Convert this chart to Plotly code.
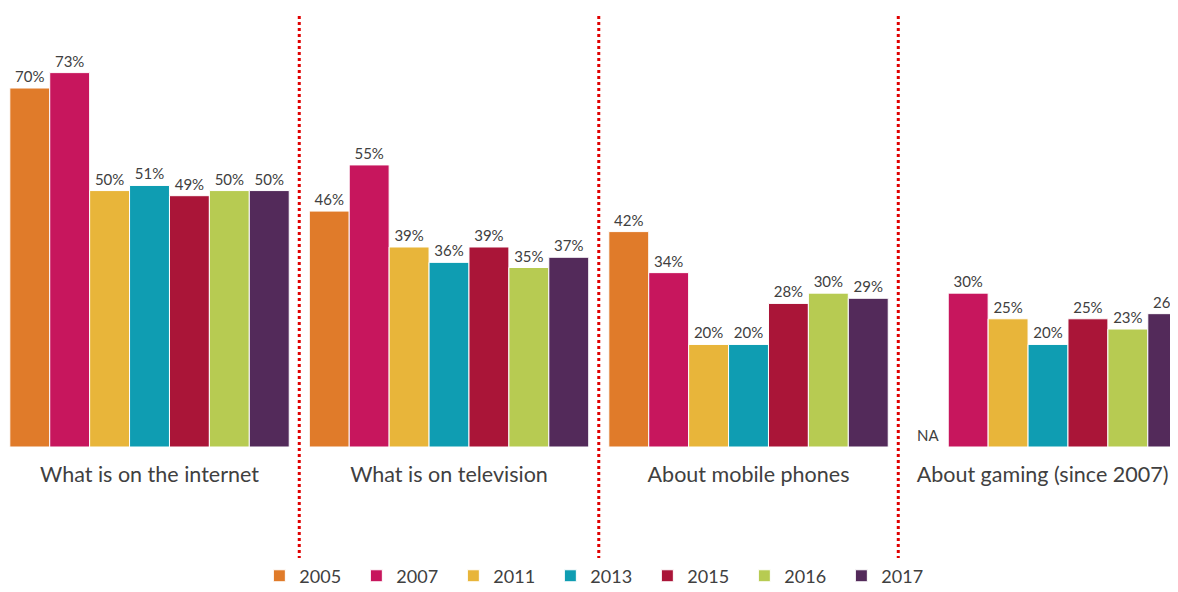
import plotly.graph_objects as go

categories = ["What is on the internet", "What is on television", "About mobile phones", "About gaming (since 2007)"]
years = ["2005", "2007", "2011", "2013", "2015", "2016", "2017"]
colors = ["#E07B2A", "#C7165D", "#E8B53A", "#0F9DB2", "#AA1538", "#B7CB52", "#532A5A"]

v2005 = [70, 46, 42, None]
v2007 = [73, 55, 34, 30]
v2011 = [50, 39, 20, 25]
v2013 = [51, 36, 20, 20]
v2015 = [49, 39, 28, 25]
v2016 = [50, 35, 30, 23]
v2017 = [50, 37, 29, 26]
series = [v2005, v2007, v2011, v2013, v2015, v2016, v2017]

FONT = "Lato, Open Sans, sans-serif"
TXT = "#404040"

fig = go.Figure()
for yr, vals, col in zip(years, series, colors):
    y = [v if v is not None else 0 for v in vals]
    txt = [f"{v}%" if v is not None else "NA" for v in vals]
    fig.add_trace(go.Bar(
        x=categories, y=y, name=yr, text=txt, textposition="outside",
        textfont=dict(size=15, color=TXT, family=FONT),
        marker=dict(color=col, line=dict(color="white", width=1)),
        cliponaxis=False,
    ))

for xs in [0.5, 1.5, 2.5]:
    fig.add_shape(type="line", xref="x", yref="paper", x0=xs, x1=xs, y0=-0.269, y1=0.984,
                  line=dict(color="#E00000", width=3, dash="dot"))

ticktext = categories[:-1] + [categories[-1] + "\u00a0\u00a0"]

fig.update_layout(
    width=1170, height=584,
    margin=dict(l=0, r=0, t=0, b=145, autoexpand=False),
    paper_bgcolor="white", plot_bgcolor="white",
    barmode="group", bargap=0.067, bargroupgap=0,
    font=dict(family=FONT, color=TXT),
    xaxis=dict(range=[-0.4725, 3.434], showgrid=False, showline=False, ticks="", automargin=False,
               tickvals=categories, ticktext=ticktext,
               tickfont=dict(size=21.5, color=TXT, family=FONT), ticklabelstandoff=12),
    yaxis=dict(range=[0, 85.6], visible=False, automargin=False),
    legend=dict(orientation="h", x=0.505, xanchor="center", xref="container",
                y=-0.294, yanchor="middle", yref="paper",
                font=dict(size=18, color=TXT, family=FONT), entrywidth=52, entrywidthmode="pixels",
                itemwidth=30),
    showlegend=True,
)
fig.write_html("out.html")
